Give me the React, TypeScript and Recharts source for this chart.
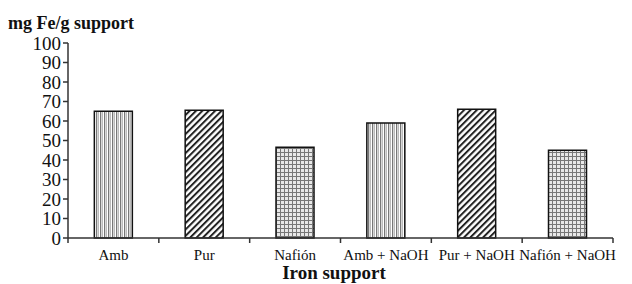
import { BarChart, Bar, XAxis, YAxis, Cell } from 'recharts';

const supports = ['Amb', 'Pur', 'Nafión', 'Amb + NaOH', 'Pur + NaOH', 'Nafión + NaOH'];
const ironLoad = [65, 65.5, 46.5, 59, 66, 45];
const fills = ['url(#vstripe)', 'url(#hatch)', 'url(#grid)', 'url(#vstripe)', 'url(#hatch)', 'url(#grid)'];
const yTicks = [0, 10, 20, 30, 40, 50, 60, 70, 80, 90, 100];

const data = supports.map((name, i) => ({ name, value: ironLoad[i] }));

const W = 632;
const H = 284;
const xAxisHeight = 30;
const margin = { top: 43, right: 19, bottom: 16, left: 0 };
const yAxisWidth = 68;
const band = (W - margin.left - margin.right - yAxisWidth) / supports.length;

const serif = '"Liberation Serif", "DejaVu Serif", serif';

function CategoryTick(props: any) {
  const { x, y, payload, index } = props;
  const left = x - band / 2;
  return (
    <g>
      <line x1={left} y1={y - 8} x2={left} y2={y - 3} stroke="#333" strokeWidth={1.5} />
      {index === supports.length - 1 && (
        <line x1={x + band / 2} y1={y - 8} x2={x + band / 2} y2={y - 3} stroke="#333" strokeWidth={1.5} />
      )}
      <text x={x} y={y + 14} textAnchor="middle" fontSize={15} fontFamily={serif} fill="#111">
        {payload.value}
      </text>
    </g>
  );
}

export default function App() {
  return (
    <div style={{ position: 'absolute', left: 0, top: 0, width: W, height: H, background: '#fff' }}>
      <BarChart width={W} height={H} data={data} margin={margin} barCategoryGap="29%">
        <defs>
          <pattern id="vstripe" width={4} height={4} patternUnits="userSpaceOnUse">
            <rect width={4} height={4} fill="#fff" />
            <rect x={0} width={1.3} height={4} fill="#777" />
            <rect x={2} width={1} height={4} fill="#bbb" />
          </pattern>
          <pattern id="hatch" width={4.5} height={4.5} patternUnits="userSpaceOnUse" patternTransform="rotate(45)">
            <rect width={4.5} height={4.5} fill="#fff" />
            <rect x={0} width={2} height={4.5} fill="#222" />
          </pattern>
          <pattern id="grid" width={4} height={4} patternUnits="userSpaceOnUse">
            <rect width={4} height={4} fill="#e8e8e8" />
            <rect x={0} width={1} height={4} fill="#777" />
            <rect y={0} width={4} height={1} fill="#777" />
          </pattern>
        </defs>
        <XAxis
          dataKey="name"
          height={xAxisHeight}
          axisLine={{ stroke: '#333', strokeWidth: 1.5 }}
          tickLine={false}
          tick={<CategoryTick />}
          interval={0}
        />
        <XAxis xAxisId="top" orientation="top" dataKey="name" height={0} tick={false} tickLine={false} axisLine={{ stroke: '#222', strokeWidth: 1.2 }} />
        <YAxis
          domain={[0, 100]}
          ticks={yTicks}
          width={yAxisWidth}
          interval={0}
          axisLine={{ stroke: '#333', strokeWidth: 1.5 }}
          tickLine={{ stroke: '#333', strokeWidth: 1.5 }}
          tickSize={5}
          tick={{ fontSize: 19, fontFamily: serif, fill: '#111' }}
        />
        <YAxis yAxisId="right" orientation="right" width={0} tick={false} tickLine={false} axisLine={{ stroke: '#222', strokeWidth: 1.2 }} />
        <Bar dataKey="value" stroke="#111" strokeWidth={1.5} isAnimationActive={false}>
          {data.map((d, i) => (
            <Cell key={d.name} fill={fills[i]} />
          ))}
        </Bar>
        <text x={8} y={29} fontSize={18} fontWeight="bold" fontFamily={serif} fill="#111">
          mg Fe/g support
        </text>
        <text x={334} y={279} textAnchor="middle" fontSize={19} fontWeight="bold" fontFamily={serif} fill="#111">
          Iron support
        </text>
      </BarChart>
    </div>
  );
}
